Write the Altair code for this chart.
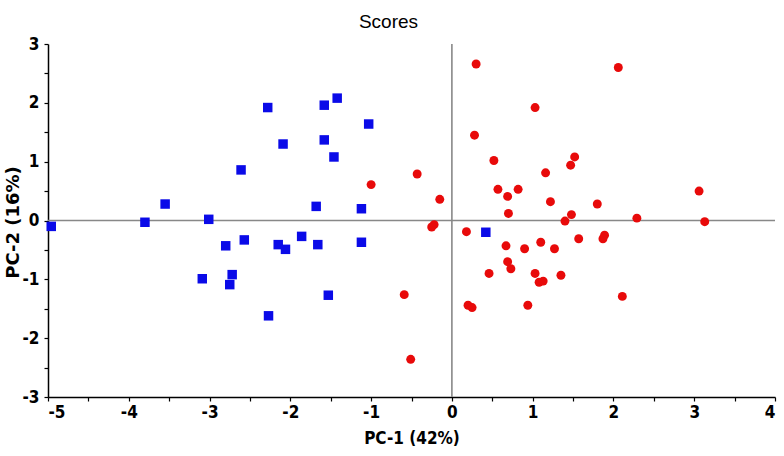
import altair as alt
import pandas as pd

blue_x = [-4.96, -3.80, -3.55, -3.01, -2.61, -2.80, -2.57, -3.09, -2.72, -2.75,
          -2.28, -1.58, -1.42, -1.03, -2.09, -1.58, -1.46, -1.68, -1.12,
          -2.15, -2.06, -1.86, -1.66, -1.12, -1.53, -2.27, 0.42]
blue_y = [-0.10, -0.03, 0.28, 0.02, 0.86, -0.43, -0.33, -0.99, -0.92, -1.09,
          1.92, 1.96, 2.08, 1.64, 1.30, 1.37, 1.08, 0.24, 0.20,
          -0.41, -0.49, -0.27, -0.41, -0.37, -1.27, -1.62, -0.20]

red_x = [-1.00, -0.43, -0.15, -0.22, -0.25, 0.18, -0.59, -0.51, 0.20, 0.25,
         0.30, 2.06, 1.03, 0.28, 0.52, 1.52, 1.47, 1.16, 0.57, 0.69,
         0.82, 1.22, 1.80, 3.06, 0.70, 1.48, 1.40, 2.29, 3.13,
         0.67, 0.90, 1.10, 1.27, 1.57, 1.89, 1.87, 0.69, 0.73, 0.46,
         1.03, 1.08, 1.13, 1.35, 2.11, 0.94]
red_y = [0.61, 0.79, 0.36, -0.07, -0.11, -0.19, -1.26, -2.36, -1.44, -1.48,
         2.66, 2.60, 1.92, 1.45, 1.02, 1.08, 0.94, 0.81, 0.53, 0.41,
         0.53, 0.32, 0.28, 0.50, 0.12, 0.10, -0.01, 0.04, -0.02,
         -0.43, -0.48, -0.37, -0.48, -0.31, -0.25, -0.31, -0.70, -0.82, -0.90,
         -0.90, -1.05, -1.03, -0.93, -1.29, -1.44]

blue = pd.DataFrame({"x": blue_x, "y": blue_y})
red = pd.DataFrame({"x": red_x, "y": red_y})

FONT = "DejaVu Sans Condensed, Liberation Sans Narrow, Liberation Sans, Arial, sans-serif"
WIDE = "DejaVu Sans, Liberation Sans, Arial, sans-serif"
TFONT = "Liberation Sans, Arial, sans-serif"

xscale = alt.Scale(domain=[-5, 4], nice=False, zero=False)
yscale = alt.Scale(domain=[-3, 3], nice=False, zero=False)

LBL = "datum.value % 1 == 0 ? toString(datum.value) : ''"

xaxis = alt.Axis(
    title="PC-1 (42%)",
    values=[v / 2 for v in range(-10, 9)],
    labelExpr=LBL,
    grid=False, tickSize=4, labelPadding=3, titlePadding=10,
)
yaxis = alt.Axis(
    title="PC-2 (16%)",
    values=[v / 2 for v in range(-6, 7)],
    labelExpr=LBL,
    grid=False, tickSize=4, labelPadding=5,
    titleFont=WIDE, titleFontSize=18,
    titleX=-26, titleY=178, titleBaseline="bottom", titleAlign="center", titleAngle=270,
)

zero_v = alt.Chart(pd.DataFrame({"v": [0]})).mark_rule(color="#888888", strokeWidth=1.6).encode(
    x=alt.X("v:Q", scale=xscale, axis=xaxis)
)
zero_h = alt.Chart(pd.DataFrame({"v": [0]})).mark_rule(color="#888888", strokeWidth=1.6).encode(
    y=alt.Y("v:Q", scale=yscale, axis=yaxis)
)

pts_b = alt.Chart(blue).mark_point(shape="square", filled=True, size=90, color="#0a0ae8", opacity=1).encode(
    x=alt.X("x:Q", scale=xscale, axis=xaxis),
    y=alt.Y("y:Q", scale=yscale, axis=yaxis),
)
pts_r = alt.Chart(red).mark_point(shape="circle", filled=True, size=80, color="#e80a0a", opacity=1).encode(
    x=alt.X("x:Q", scale=xscale, axis=xaxis),
    y=alt.Y("y:Q", scale=yscale, axis=yaxis),
)

chart = alt.layer(zero_v, zero_h, pts_b, pts_r).properties(
    width=727, height=353,
    title=alt.TitleParams("Scores", fontSize=19, fontWeight="normal", font=TFONT, anchor="middle", offset=3, color="#000", dx=-23),
    autosize=alt.AutoSizeParams(type="none"),
    padding={"left": 48, "top": 44, "right": 9, "bottom": 59},
).configure_view(stroke=None).configure_axis(
    domainColor="#000", tickColor="#000", domainWidth=1.5, tickWidth=1.2,
    labelFont=FONT, labelFontSize=17, labelFontWeight="bold", labelColor="#000",
    titleFont=FONT, titleFontSize=17, titleFontWeight="bold", titleColor="#000",
)

chart.save("out.html", embed_options={"renderer": "svg", "actions": False})
